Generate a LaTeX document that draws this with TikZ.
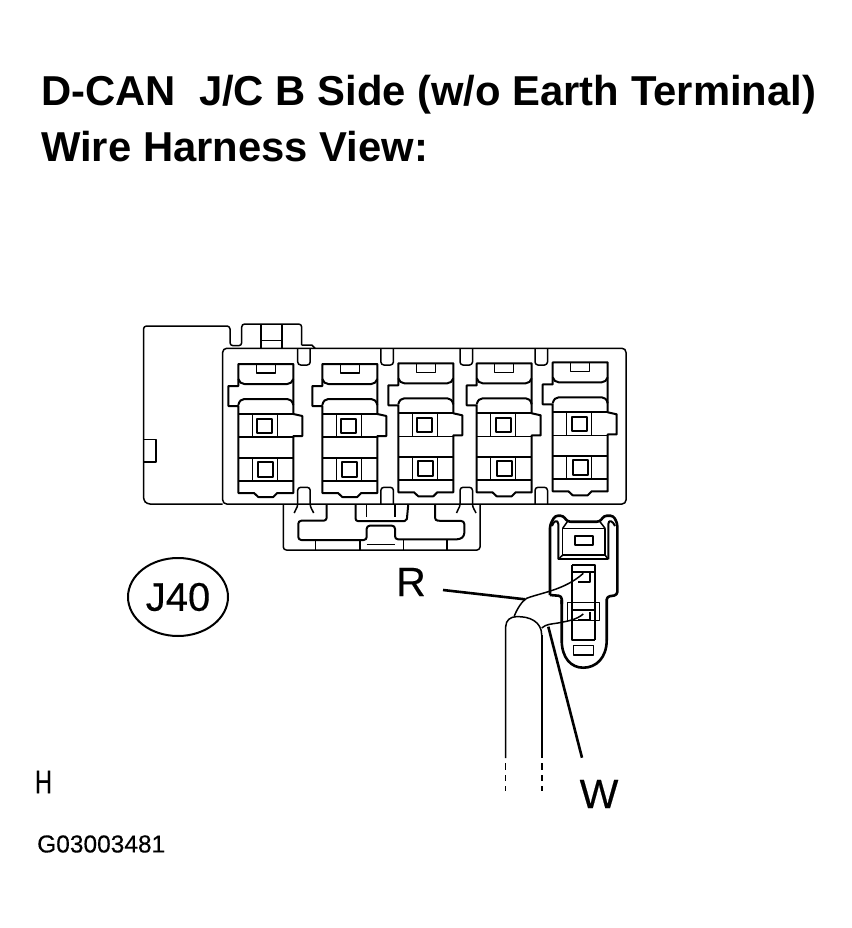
\documentclass[tikz,border=0pt]{standalone}
\usepackage{fontspec}
\setmainfont{Liberation Sans}
\newfontfamily\thickfont[FakeBold=0.35]{Liberation Sans}
\usetikzlibrary{calc,shapes.geometric}

\tikzset{
    heavy/.style={line width=2pt},
    medium/.style={line width=1.5pt},
    light/.style={line width=1pt},
    leader/.style={line width=2.6pt},
    titletext/.style={anchor=west, inner sep=0pt, font=\fontsize{41.8}{41.8}\bfseries\selectfont},
    calltext/.style={inner sep=0pt, font=\fontsize{41}{41}\thickfont}
}

\begin{document}
\begin{tikzpicture}[x=1pt, y=-1pt, line join=round]
    \useasboundingbox (0,0) rectangle (851,928);

    % Title
    \node[titletext] (title1) at (41,95) {D-CAN\ \ J/C B Side (w/o Earth Terminal)};
    \node[titletext] (title2) at (41,147) {Wire Harness View:};

    % Housing
    \draw[medium, rounded corners=3pt] (222.7,504) -- (147,504) -- (143.5,500) -- (143.5,326) -- (230,326) -- (230,345.7) -- (241.7,345.7) -- (241.7,324) -- (301.7,324) -- (301.7,345);
    \draw[medium] (301.7,345) -- (311.7,345) -- (315,348.3);
    \draw[medium] (143.5,439.7) -- (156,439.7) -- (156,462) -- (143.5,462);
    \draw[medium] (261,324) -- (261,348.3) (282,324) -- (282,348.3);
    \draw[light] (261,340) -- (282,340);
    \draw[medium, rounded corners=4pt] (222.7,504) rectangle (626,348.3);

    % Clips on the upper and lower edge
    \foreach \cx in {297.7,380.9,460,535} {
        \draw[medium, rounded corners=3pt] (\cx,348.3) -- (\cx,365) -- (\cx+12.5,365) -- (\cx+12.5,348.3);
        \draw[medium, rounded corners=3pt] (\cx,504) -- (\cx,487.3) -- (\cx+12.5,487.3) -- (\cx+12.5,504);
    }
    \foreach \cx in {297.7,460} {
        \draw[medium] (\cx,504) .. controls (\cx,508) and (\cx-3,510) .. (\cx-3.5,513);
        \draw[medium] (\cx+12.5,504) .. controls (\cx+12.5,508) and (\cx+15,510) .. (\cx+16,513);
    }

    % Cavities
    \foreach \cx/\cy in {238.3/364, 322.3/364, 398.3/363.3, 476.7/363.3, 552.7/362.3} {
        \begin{scope}[shift={(\cx,\cy)}]
            \draw[heavy] (0,0) -- (55,0) -- (55,50) -- (64,52) -- (64,72) -- (55,72) -- (55,129) -- (39,129) -- (35,133) -- (20,133) -- (15.7,129) -- (0,129) -- (0,42) -- (-10,42) -- (-10,22) -- (0,22) -- cycle;
            \draw[medium] (18,0) -- (18,9) -- (37,9) -- (37,0);
            \draw[heavy] (0,15) .. controls (1,18) and (3,20) .. (6,20) -- (49,20) .. controls (52,20) and (54,18) .. (55,15);
            \draw[heavy] (0,41) .. controls (1,37) and (3,35) .. (6,35) -- (49,35) .. controls (52,35) and (54,37) .. (55,41);
            \draw[heavy] (0,50) -- (55,50);
            \draw[medium] (0,73) -- (55,73);
            \draw[heavy] (0,94) -- (55,94);
            \draw[heavy] (0,117) -- (55,117);
            \draw[light] (14,50) rectangle (39,73);
            \draw[light] (14,94) rectangle (39,117);
            \draw[heavy] (19,55) rectangle (34,69);
            \draw[heavy] (20,98) rectangle (35,113);
        \end{scope}
    }

    % Lower latch
    \draw[medium, rounded corners=3pt] (283.3,504) -- (283.3,550) -- (480,550) -- (480,504);
    \draw[heavy, rounded corners=3pt] (326.7,504) -- (326.7,520.7) -- (298.3,520.7) -- (298.3,540) -- (366.7,540) -- (366.7,525.7) -- (395,525.7) -- (395,539.3) -- (460,539.3) -- (464.3,536) -- (464.3,521) -- (435,520.7) -- (435,504);
    \draw[heavy, rounded corners=2pt] (355.7,504) -- (355.7,521) -- (406.7,521) -- (408.3,504);
    \draw[medium] (366.7,504) -- (366.7,516.7) (395,504) -- (395,516.7);
    \draw[light] (366.7,544.3) -- (395,544.3);
    \draw[light] (315,540) -- (315,550);
    \draw[heavy] (360,540) -- (360,550);
    \draw[light] (403.3,540) -- (403.3,550);
    \draw[heavy] (446.7,540) -- (446.7,550);

    % Mating connector
    \draw[line width=2.6pt, rounded corners=3pt] (550,595) -- (550,525) -- (555,515.7) -- (563.3,515.7) -- (567.3,521.7) -- (600,521.7) -- (604,515.7) -- (613.3,515.7) -- (617.3,523.3) -- (617.3,595) -- (606.7,596.7) -- (606.7,640);
    \draw[line width=2.6pt] (606.7,640) .. controls (606.7,658) and (596,667.7) .. (583.3,667.7) .. controls (571,667.7) and (561.7,658) .. (561.7,640) -- (561.7,600);
    \draw[line width=2.6pt, rounded corners=3pt] (561.7,604) -- (561.7,596) -- (550,595);
    \draw[heavy] (558.3,559.3) -- (558.3,524) .. controls (558,519) and (553,521) .. (552,526);
    \draw[heavy] (608.3,559.3) -- (608.3,524) .. controls (608.6,519) and (613,521) .. (615,526);
    \draw[heavy] (558.3,559.3) -- (608.3,559.3);
    \draw[medium] (562.7,555) rectangle (605,528.3);
    \draw[medium] (562.7,528.3) -- (567.3,521.7) (605,528.3) -- (600,521.7) (558.3,559.3) -- (562.7,555) (608.3,559.3) -- (605,555);
    \draw[heavy] (575,536) rectangle (593.3,545);

    % Terminals
    \draw[heavy] (572.3,565) -- (572.3,640) -- (595,640);
    \draw[medium] (595,640) -- (595,565) -- (572.3,565);
    \draw[heavy] (572.3,572) -- (595,572);
    \draw[heavy] (589.5,572.7) -- (589.5,581.7) -- (578.3,581.7);
    \draw[light] (567.3,602.3) rectangle (599.3,620.7);
    \draw[heavy] (572.3,610) -- (595,610);
    \draw[heavy] (589.5,611.7) -- (589.5,620) -- (578.3,620);
    \draw[medium] (573.3,645.7) rectangle (593.3,655);

    % Wires and cable
    \draw[medium] (514.3,616) .. controls (517,609) and (522,601) .. (526.7,598.3) .. controls (540,593) and (565,590) .. (583.3,573.3);
    \draw[medium] (541.7,628) .. controls (546,624) and (552,624) .. (558,623) .. controls (568,621) and (576,620) .. (583.3,614);
    \draw[medium] (505.7,758) -- (505.7,626.7) .. controls (505.7,620) and (511,616.7) .. (516,616.7) .. controls (530,616) and (541.7,622) .. (541.7,635);
    \draw[heavy] (541.7,635) -- (541.7,758);
    \draw[medium] (505.7,763) -- (505.7,770) (505.7,775) -- (505.7,781) (505.7,786) -- (505.7,791);
    \draw[heavy] (541.7,763) -- (541.7,770) (541.7,775) -- (541.7,781) (541.7,786) -- (541.7,791);

    % Labels and leaders
    \node[calltext] (labelR) at (411,582) {R};
    \node[calltext] (labelW) at (599,794) {W};
    \coordinate (wireR) at (525,599.3);
    \coordinate (wireW) at (548.3,626.7);
    \draw[leader] (labelR.east) ++(17,8) -- (wireR);
    \draw[leader] (wireW) -- ($(labelW.north)+(-17,-22)$);

    \node[draw, line width=2pt, ellipse, minimum width=100pt, minimum height=78pt, inner sep=0pt, font=\fontsize{40}{40}\thickfont] (j40) at (178,597) {J40};
    \node[inner sep=0pt, xscale=0.72, transform shape, font=\fontsize{33}{33}\thickfont] (markH) at (43.5,782) {H};
    \node[anchor=west, inner sep=0pt, font=\fontsize{24.5}{24.5}\thickfont] (code) at (37,844) {G03003481};
\end{tikzpicture}
\end{document}
